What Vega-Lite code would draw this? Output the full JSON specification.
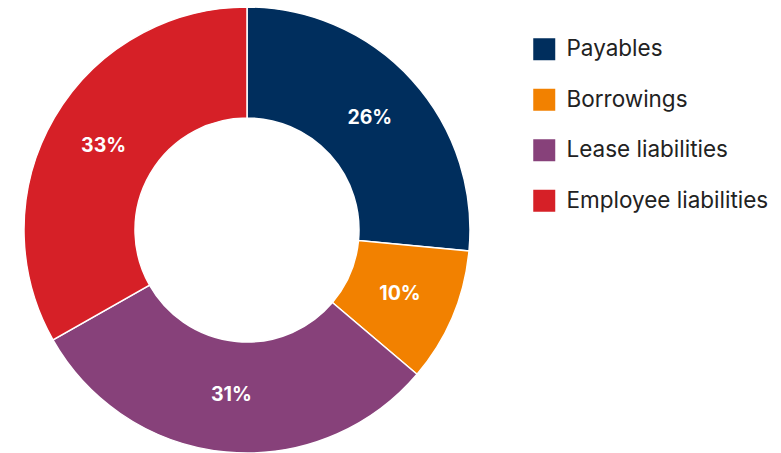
{
  "$schema": "https://vega.github.io/schema/vega-lite/v6.json",
  "width": 448,
  "height": 446,
  "autosize": {"type": "none"},
  "padding": {"left": 23, "top": 7, "right": 310, "bottom": 0},
  "background": "white",
  "config": {"view": {"stroke": null}, "font": "Inter"},
  "data": {
    "values": [
      {"category": "Payables", "value": 26.5, "label": "26%", "order": 1},
      {"category": "Borrowings", "value": 9.7, "label": "10%", "order": 2},
      {"category": "Lease liabilities", "value": 30.6, "label": "31%", "order": 3},
      {"category": "Employee liabilities", "value": 33.2, "label": "33%", "order": 4}
    ]
  },
  "encoding": {
    "theta": {"field": "value", "type": "quantitative", "stack": true},
    "order": {"field": "order", "type": "quantitative"},
    "color": {
      "field": "category",
      "type": "nominal",
      "scale": {
        "domain": ["Payables", "Borrowings", "Lease liabilities", "Employee liabilities"],
        "range": ["#002E5D", "#F28100", "#87417A", "#D62027"]
      },
      "legend": {
        "title": null,
        "orient": "none",
        "legendX": 510,
        "legendY": 31,
        "symbolType": "square",
        "symbolSize": 484,
        "symbolStrokeWidth": 0,
        "labelFontSize": 22.5,
        "labelColor": "#222222",
        "labelFont": "Inter",
        "labelOffset": 11,
        "rowPadding": 27.5,
        "labelLimit": 400
      }
    }
  },
  "layer": [
    {
      "mark": {"type": "arc", "outerRadius": 223, "innerRadius": 112, "stroke": "white", "strokeWidth": 1.5}
    },
    {
      "mark": {"type": "text", "radius": 166, "fontSize": 19.5, "fontWeight": "bold", "fill": "white", "font": "Inter"},
      "encoding": {
        "text": {"field": "label", "type": "nominal"},
        "color": {"value": "white"}
      }
    }
  ]
}
